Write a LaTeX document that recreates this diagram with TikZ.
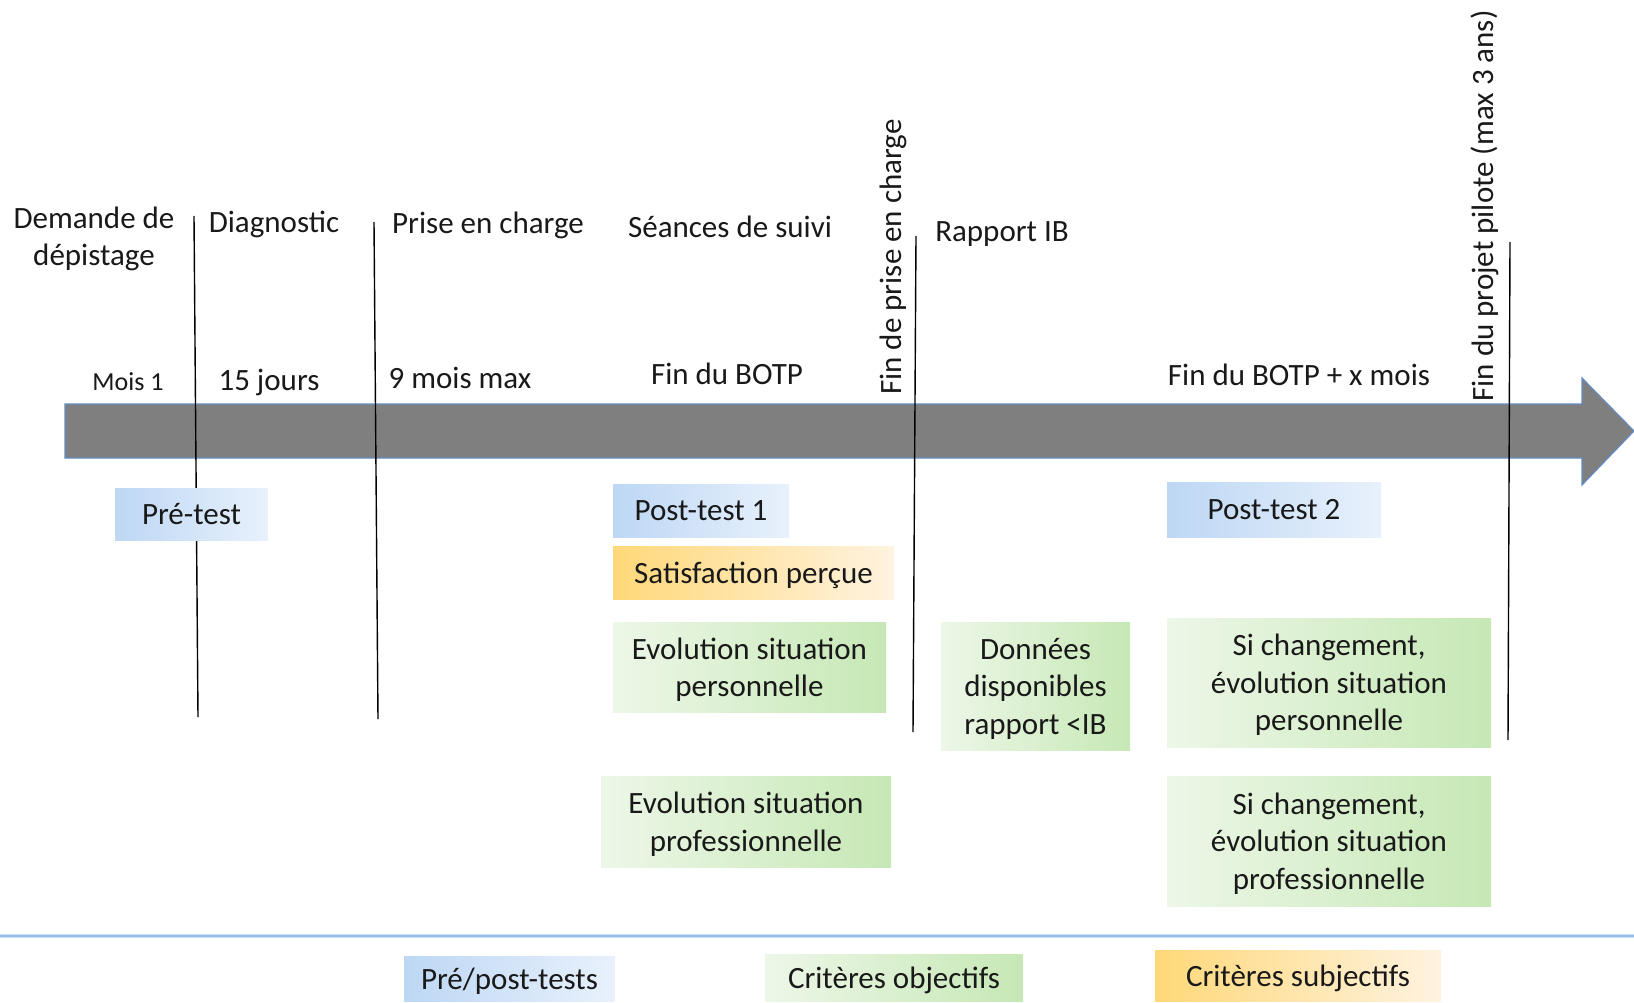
\documentclass[tikz,border=0pt]{standalone}
\usepackage{fontspec}
\setmainfont{Carlito}
\definecolor{bluL}{RGB}{189,215,244}
\definecolor{bluR}{RGB}{232,241,252}
\definecolor{orL}{RGB}{255,216,121}
\definecolor{orR}{RGB}{255,243,224}
\definecolor{grL}{RGB}{237,247,232}
\definecolor{grR}{RGB}{198,232,181}
\definecolor{arrowgray}{RGB}{127,127,127}
\definecolor{arrowedge}{RGB}{100,140,195}
\definecolor{sepblue}{RGB}{150,190,232}
\tikzset{
  lbl/.style={font=\fontsize{31}{37.5}\selectfont, align=center, inner sep=0pt, text=black!90},
  smalllbl/.style={font=\fontsize{26}{31}\selectfont, inner sep=0pt, text=black!90},
  boxbase/.style={font=\fontsize{31}{37.5}\selectfont, align=center, inner sep=0pt, text=black!90, text depth=0pt},
  bluebox/.style={boxbase, left color=bluL, right color=bluR},
  orangebox/.style={boxbase, left color=orL, right color=orR},
  greenbox/.style={boxbase, left color=grL, right color=grR},
  tick/.style={draw=black, line width=1.4pt},
}
\begin{document}
\begin{tikzpicture}[x=1pt, y=-1pt]
\useasboundingbox (0,0) rectangle (1634,1003);
\fill[white] (0,0) rectangle (1634,1003);

% main arrow
\draw[fill=arrowgray, draw=arrowedge, line width=1.2pt]
  (65,404) -- (1582,404) -- (1582,378) -- (1634,431) -- (1582,485) -- (1582,458) -- (65,458) -- cycle;

% vertical marker lines
\coordinate (a1) at (194,216); \coordinate (a2) at (198,717);
\coordinate (b1) at (374,222); \coordinate (b2) at (378,719);
\coordinate (c1) at (916,236); \coordinate (c2) at (913,732);
\coordinate (d1) at (1510,242); \coordinate (d2) at (1508,740);
\draw[tick] (a1) -- (a2);
\draw[tick] (b1) -- (b2);
\draw[tick] (c1) -- (c2);
\draw[tick] (d1) -- (d2);

% top labels
\node[lbl] (demande) at (94,239) {Demande de\\dépistage};
\node[lbl] (diag) at (274,224) {Diagnostic};
\node[lbl] (prise) at (488,225) {Prise en charge};
\node[lbl] (seances) at (730,227) {Séances de suivi};
\node[lbl] (rapport) at (1002,234) {Rapport IB};
\node[lbl, rotate=90] (finprise) at (893,257) {Fin de prise en charge};
\node[lbl, rotate=90] (finprojet) at (1485,206) {Fin du projet pilote (max 3 ans)};

% duration labels
\node[smalllbl] (mois1) at (128,382) {Mois 1};
\node[lbl] (jours) at (269,382) {15 jours};
\node[lbl] (neufmois) at (460,378) {9 mois max};
\node[lbl] (finbotp) at (727,374) {Fin du BOTP};
\node[lbl] (finbotpx) at (1299,375) {Fin du BOTP + x mois};

% boxes
\node[bluebox, minimum width=153, minimum height=52] (pretest) at (191.5,514) {Pré-test};
\node[bluebox, minimum width=176, minimum height=53] (post1) at (701,510.5) {Post-test 1};
\node[orangebox, minimum width=281, minimum height=53] (satis) at (753.5,572.5) {Satisfaction perçue};
\node[greenbox, minimum width=273, minimum height=90] (evoperso) at (749.5,667) {Evolution situation\\personnelle};
\node[greenbox, minimum width=290, minimum height=91] (evopro) at (746,821.5) {Evolution situation\\professionnelle};
\node[greenbox, minimum width=189, minimum height=128] (donnees) at (1035.5,686) {Données\\disponibles\\rapport <IB};
\node[bluebox, minimum width=214, minimum height=55] (post2) at (1274,509.5) {Post-test 2};
\node[greenbox, minimum width=324, minimum height=129] (siperso) at (1329,682.5) {Si changement,\\évolution situation\\personnelle};
\node[greenbox, minimum width=324, minimum height=130] (sipro) at (1329,841) {Si changement,\\évolution situation\\professionnelle};

% separator
\coordinate (s1) at (0,936);
\coordinate (s2) at (1634,936);
\draw[sepblue!50, line width=4pt] (s1) -- (s2);
\draw[sepblue, line width=1.8pt] (s1) -- (s2);

% legend
\node[bluebox, minimum width=211, minimum height=45] (legpre) at (509.5,978.5) {Pré/post-tests};
\node[greenbox, minimum width=258, minimum height=47] (legobj) at (894,977.5) {Critères objectifs};
\node[orangebox, minimum width=286, minimum height=51] (legsub) at (1298,975.5) {Critères subjectifs};
\end{tikzpicture}
\end{document}
